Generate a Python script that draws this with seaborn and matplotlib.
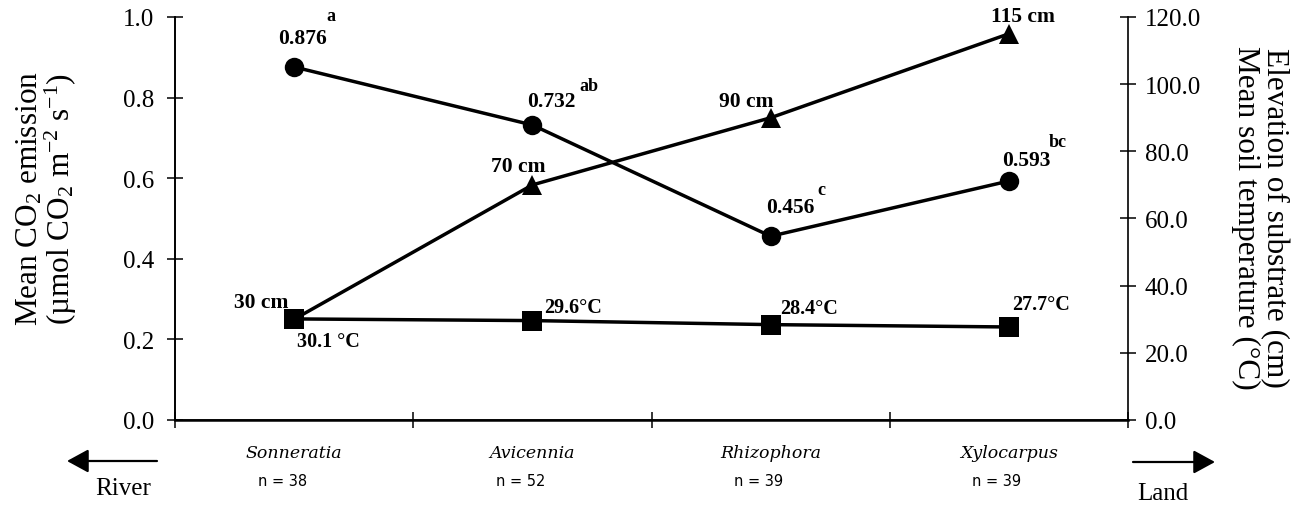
import numpy as np
import seaborn as sns
import matplotlib
matplotlib.use('Agg')
import matplotlib.pyplot as plt

# data
species = ['Sonneratia', 'Avicennia', 'Rhizophora', 'Xylocarpus']
n_obs = [38, 52, 39, 39]
co2 = [0.876, 0.732, 0.456, 0.593]
co2_letters = ['a', 'ab', 'c', 'bc']
elevation = [30, 70, 90, 115]
soil_temp = [30.1, 29.6, 28.4, 27.7]
temp_labels = ['30.1 \u00b0C', '29.6\u00b0C', '28.4\u00b0C', '27.7\u00b0C']

sns.set_style('ticks')
plt.rcParams['font.family'] = ['Liberation Serif', 'DejaVu Serif']
plt.rcParams['text.color'] = 'black'
plt.rcParams['axes.labelcolor'] = 'black'
plt.rcParams['xtick.color'] = 'black'
plt.rcParams['ytick.color'] = 'black'
plt.rcParams['mathtext.fontset'] = 'custom'
plt.rcParams['mathtext.rm'] = 'Liberation Serif'
plt.rcParams['mathtext.it'] = 'Liberation Serif:italic'
plt.rcParams['mathtext.bf'] = 'Liberation Serif:bold'

W, H = 1306, 510
fig = plt.figure(figsize=(W / 100, H / 100), dpi=100)
ax = fig.add_axes([175 / W, 1 - 421 / H, (1128 - 175) / W, (421 - 18) / H])
ax2 = ax.twinx()

x = np.arange(len(species))
line_kw = dict(color='black', linewidth=2.5, markersize=14,
               markeredgecolor='black', markeredgewidth=0)

sns.lineplot(x=x, y=co2, marker='o', ax=ax, **line_kw)
sns.lineplot(x=x, y=elevation, marker='^', ax=ax2, **line_kw)
sns.lineplot(x=x, y=soil_temp, marker='s', ax=ax2, **line_kw)

ax.set_xlim(-0.5, len(species) - 0.5)
ax.set_ylim(0, 1.0)
ax2.set_ylim(0, 120)
ax.set_yticks(np.arange(0, 1.01, 0.2))
ax2.set_yticks(np.arange(0, 121, 20))
ax.yaxis.set_major_formatter('{x:.1f}')
ax2.yaxis.set_major_formatter('{x:.1f}')
ax.set_xticks(np.arange(-0.5, len(species), 1.0))
ax.set_xticklabels([])
ax.set_xlabel('')
ax.set_ylabel('')
ax2.set_ylabel('')

for a in (ax, ax2):
    a.spines['top'].set_visible(False)
    for s in a.spines.values():
        s.set_linewidth(1.2)
        s.set_color('black')
    a.tick_params(axis='y', direction='inout', length=12, width=1.1,
                  labelsize=18, colors='black')
ax.tick_params(axis='y', pad=9)
ax2.tick_params(axis='y', pad=6)
ax.spines['right'].set_visible(False)
ax.spines['bottom'].set_linewidth(1.8)
ax.tick_params(axis='x', direction='inout', length=11, width=1.1)

# value annotations (offsets in pixels -> points)
px = 0.72
co2_off = [(8, 29), (19, 24), (20, 29), (17, 21)]
let_off = [(37, 51), (57, 40), (51, 47), (49, 40)]
elev_off = [(-33, 17), (-14, 19), (-24, 17), (14, 18)]
temp_off = [(34, -22), (41, 14), (38, 17), (32, 23)]

for i in range(len(species)):
    ax.annotate(f'{co2[i]:.3f}', (x[i], co2[i]), textcoords='offset points',
                xytext=(co2_off[i][0] * px, co2_off[i][1] * px),
                ha='center', va='center', fontsize=15.5, fontweight='bold')
    ax.annotate(co2_letters[i], (x[i], co2[i]), textcoords='offset points',
                xytext=(let_off[i][0] * px, let_off[i][1] * px),
                ha='center', va='center', fontsize=13, fontweight='bold')
    ax2.annotate(f'{elevation[i]} cm', (x[i], elevation[i]), textcoords='offset points',
                 xytext=(elev_off[i][0] * px, elev_off[i][1] * px),
                 ha='center', va='center', fontsize=15.5, fontweight='bold')
    ax2.annotate(temp_labels[i], (x[i], soil_temp[i]), textcoords='offset points',
                 xytext=(temp_off[i][0] * px, temp_off[i][1] * px),
                 ha='center', va='center', fontsize=14.5, fontweight='bold')

# species names and sample sizes under the axis
trans = ax.get_xaxis_transform()
for i, (sp, n) in enumerate(zip(species, n_obs)):
    ax.text(x[i], -0.08, sp, transform=trans, ha='center', va='center',
            fontsize=12.5, style='italic', family='DejaVu Serif')
    ax.annotate(f'n = {n}', (x[i], 0), xycoords=trans, textcoords='offset points',
                xytext=(-12 * px, -61 * px), ha='center', va='center',
                fontsize=10.5, family='DejaVu Sans')

# axis titles
fig.text(47 / W, 1 - 199 / H,
         'Mean CO$_2$ emission\n(\u00b5mol CO$_2$ m$^{-2}$ s$^{-1}$)',
         rotation=90, ha='center', va='center', fontsize=22.5,
         multialignment='center', linespacing=0.95)
fig.text(1260 / W, 1 - 218 / H,
         'Elevation of substrate (cm)\nMean soil temperature (\u00b0C)',
         rotation=270, ha='center', va='center', fontsize=22.5,
         multialignment='center', linespacing=1.0)

# river / land arrows
arrow = dict(arrowstyle='-|>,head_length=0.55,head_width=0.3', mutation_scale=24,
             lw=1.6, color='black', shrinkA=0, shrinkB=0)
fig.add_artist(matplotlib.patches.FancyArrowPatch(
    (157 / W, 1 - 462 / H), (67 / W, 1 - 462 / H), transform=fig.transFigure, **arrow))
fig.add_artist(matplotlib.patches.FancyArrowPatch(
    (1133 / W, 1 - 463 / H), (1215 / W, 1 - 463 / H), transform=fig.transFigure, **arrow))
fig.text(123 / W, 1 - 489 / H, 'River', ha='center', va='center', fontsize=18)
fig.text(1163 / W, 1 - 494 / H, 'Land', ha='center', va='center', fontsize=18)

fig.savefig('out.png', dpi=100)
